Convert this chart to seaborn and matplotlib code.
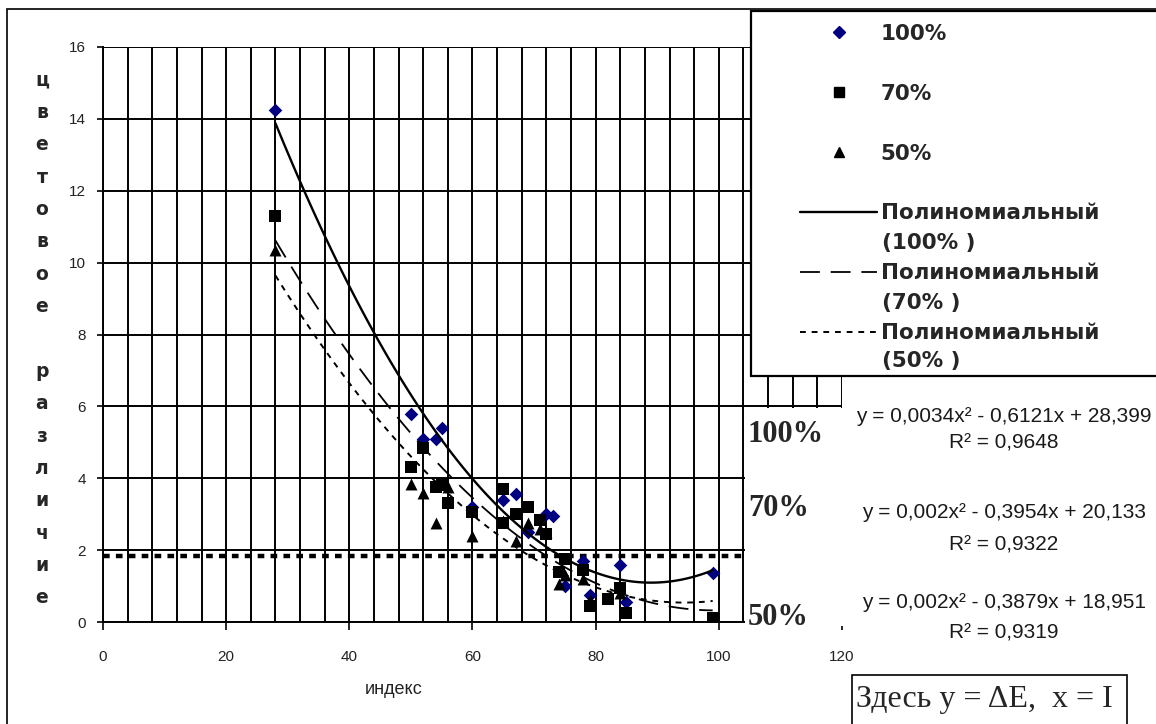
import numpy as np
import matplotlib
matplotlib.use("Agg")
import matplotlib.pyplot as plt
import seaborn as sns
from matplotlib.lines import Line2D
from matplotlib.patches import Rectangle
from matplotlib.ticker import MultipleLocator

# данные (индекс -> цветовое различие)
x100 = [28, 50, 52, 54, 55, 60, 65, 67, 69, 72, 73, 75, 78, 79, 84, 85, 99]
y100 = [14.25, 5.8, 5.1, 5.1, 5.4, 3.2, 3.4, 3.55, 2.5, 3.0, 2.95, 1.0, 1.7, 0.75, 1.6, 0.55, 1.35]

x70 = [28, 50, 52, 54, 55, 56, 60, 65, 65, 67, 69, 71, 72, 74, 75, 78, 79, 82, 84, 85, 99]
y70 = [11.3, 4.3, 4.85, 3.75, 3.8, 3.3, 3.05, 3.7, 2.75, 3.0, 3.2, 2.85, 2.45, 1.4, 1.75, 1.45,
       0.45, 0.65, 0.95, 0.25, 0.1]

x50 = [28, 50, 52, 54, 56, 60, 65, 67, 69, 71, 72, 74, 75, 78, 79, 84, 99]
y50 = [10.35, 3.85, 3.6, 2.75, 3.75, 2.4, 2.8, 2.25, 2.75, 2.6, 2.5, 1.05, 1.3, 1.2, 0.6, 0.8, 0.1]

threshold = 1.85

series_labels = ["100%", "70%", "50%"]
trend_label = "Полиномиальный"
equations = ["y = 0,0034x² - 0,6121x + 28,399", "y = 0,002x² - 0,3954x + 20,133",
             "y = 0,002x² - 0,3879x + 18,951"]
r2_labels = ["R² = 0,9648", "R² = 0,9322", "R² = 0,9319"]
ylabel = "цветовое различие"

sns.set_style("white")
plt.rcParams["font.family"] = ["Liberation Sans", "DejaVu Sans"]

W, H = 1156, 724
fig = plt.figure(figsize=(W / 100, H / 100), dpi=100)


def fx(px):
    return px / W


def fy(py):
    return 1 - py / H


ax = fig.add_axes([fx(103), fy(622), 739 / W, 575 / H])

navy = "#000080"
sns.scatterplot(x=x100, y=y100, marker="D", color=navy, s=48, linewidth=0, ax=ax, zorder=3)
sns.scatterplot(x=x70, y=y70, marker="s", color="black", s=68, linewidth=0, ax=ax, zorder=3)
sns.scatterplot(x=x50, y=y50, marker="^", color="black", s=74, linewidth=0, ax=ax, zorder=3)

solid = dict(color="black", lw=1.7, zorder=4)
dashed = dict(color="black", lw=1.3, ls=(0, (11, 6)), zorder=4)
dotted = dict(color="black", lw=1.4, ls=(0, (3, 3)), zorder=4)
sns.regplot(x=x100, y=y100, order=2, ci=None, scatter=False, truncate=True, ax=ax, line_kws=solid)
sns.regplot(x=x70, y=y70, order=2, ci=None, scatter=False, truncate=True, ax=ax, line_kws=dashed)
sns.regplot(x=x50, y=y50, order=2, ci=None, scatter=False, truncate=True, ax=ax, line_kws=dotted)

ax.axhline(threshold, color="black", lw=3.2, ls=(0, (1.5, 1.4)), zorder=2.5)

ax.set_xlim(0, 120)
ax.set_ylim(0, 16)
ax.xaxis.set_major_locator(MultipleLocator(20))
ax.xaxis.set_minor_locator(MultipleLocator(4))
ax.yaxis.set_major_locator(MultipleLocator(2))
ax.set_axisbelow(True)
ax.grid(which="both", axis="x", color="black", lw=1.4)
ax.grid(which="major", axis="y", color="black", lw=1.4)

for s in ["top", "right"]:
    ax.spines[s].set_visible(False)
for s in ["left", "bottom"]:
    ax.spines[s].set_color("black")
    ax.spines[s].set_linewidth(1.4)

ax.tick_params(axis="x", which="major", bottom=True, direction="out", length=6, width=1.4,
               pad=14, labelsize=11, labelcolor="#222222")
ax.tick_params(axis="x", which="minor", bottom=False, length=0)
ax.tick_params(axis="y", left=True, direction="out", length=4.5, width=1.4, pad=8,
               labelsize=11, labelcolor="#222222")

ax.set_xlabel("индекс", fontsize=13, color="#222222", va="center")
ax.xaxis.set_label_coords((394 - 103) / 739, -(690 - 622) / 575)
word1, word2 = ylabel.split(" ")
ax.set_ylabel("\n".join(word1) + "\n\n" + "\n".join(word2), rotation=0, family="DejaVu Sans",
              fontsize=13.5, fontweight="bold", linespacing=1.89, va="center", ha="center")
ax.yaxis.set_label_coords((42 - 103) / 739, (622 - 339) / 575)

# рамка диаграммы
fig.patches.append(Rectangle((fx(7), fy(740)), 1200 / W, 731 / H, transform=fig.transFigure,
                             fill=False, edgecolor="black", lw=1.2, zorder=0.5))
# белые подложки подписей
fig.patches.append(Rectangle((fx(745), fy(626)), 107 / W, 218 / H, transform=fig.transFigure,
                             facecolor="white", edgecolor="none", zorder=1))
fig.patches.append(Rectangle((fx(751), fy(376)), 420 / W, 365 / H, transform=fig.transFigure,
                             facecolor="white", edgecolor="black", lw=1.6, zorder=1))

handles = [
    Line2D([], [], marker="D", ls="none", color=navy, markersize=6.5),
    Line2D([], [], marker="s", ls="none", color="black", markersize=7),
    Line2D([], [], marker="^", ls="none", color="black", markersize=7.5),
    Line2D([], [], **{k: v for k, v in solid.items() if k != "zorder"}),
    Line2D([], [], **{k: v for k, v in dashed.items() if k != "zorder"}),
    Line2D([], [], **{k: v for k, v in dotted.items() if k != "zorder"}),
]
labels = series_labels + [trend_label] * 3
leg_font = dict(family="DejaVu Sans", weight="bold", size=15.5)
fig.legend(handles, labels, loc="upper left", bbox_to_anchor=(fx(800), fy(24)), frameon=False,
           prop=leg_font, handlelength=3.6, handletextpad=0.15, labelspacing=1.85,
           borderpad=0, borderaxespad=0)
for lab, py in zip(series_labels, [243, 303, 361]):
    fig.text(fx(882), fy(py), f"({lab} )", family="DejaVu Sans",
             fontsize=15.5, fontweight="bold", va="center", zorder=6)

# подписи серий и уравнения трендов
for lab, py in zip(series_labels, [442, 516, 625]):
    fig.text(fx(748), fy(py), lab, family="Liberation Serif", fontsize=22, fontweight="bold",
             va="baseline", zorder=6)
for eq, r2, py1, py2 in zip(equations, r2_labels, [417, 513, 603], [443, 545, 633]):
    fig.text(fx(1004), fy(py1), eq, fontsize=15, ha="center", va="center", color="#1a1a1a", zorder=6)
    fig.text(fx(1004), fy(py2), r2, fontsize=15, ha="center", va="center", color="#1a1a1a", zorder=6)

fig.patches.append(Rectangle((fx(852), fy(730)), 275 / W, 55 / H, transform=fig.transFigure,
                             facecolor="white", edgecolor="black", lw=1.2, zorder=5))
fig.text(fx(856), fy(700), "Здесь y = ΔE,  x = I", family="Liberation Serif", fontsize=23,
         va="center", zorder=6)

fig.savefig("out.png", dpi=100)
